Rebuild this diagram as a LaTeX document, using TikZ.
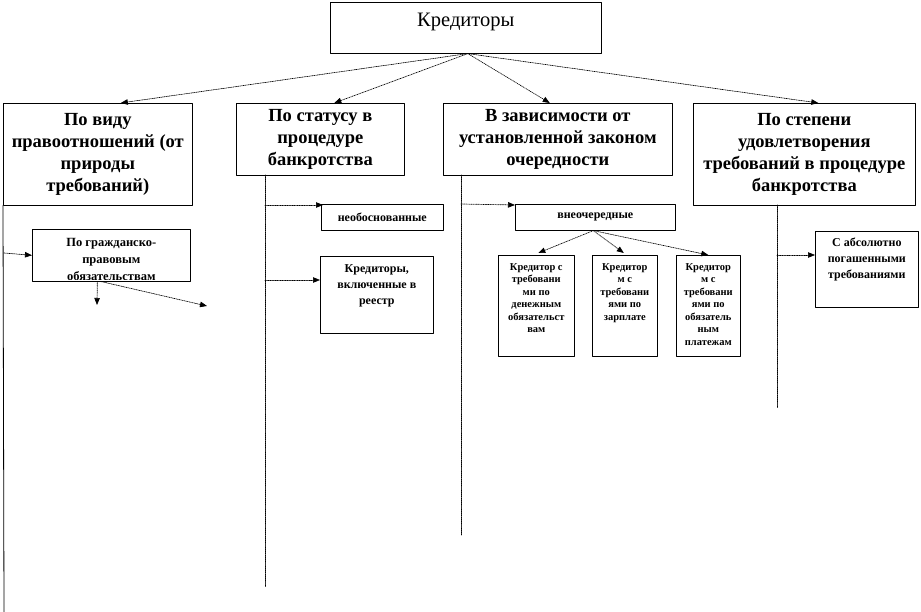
\documentclass[tikz,border=0pt]{standalone}
\usepackage{fontspec}
\setmainfont{Liberation Serif}
\usetikzlibrary{arrows.meta, calc, positioning}

\tikzset{
  box/.style={draw, line width=0.6pt, anchor=north west, inner sep=0pt},
  cattext/.style={align=center, font=\bfseries\fontsize{18.5}{22}\selectfont},
  note/.style={align=center, inner sep=0pt, font=\bfseries\fontsize{12}{16}\selectfont},
  narrow/.style={align=center, inner sep=0pt, font=\bfseries\fontsize{10.5}{12.5}\selectfont},
  link/.style={-{Triangle[length=7pt,width=5.5pt]}, densely dotted, line width=0.7pt},
  trunk/.style={densely dotted, line width=0.9pt},
}

\begin{document}
\begin{tikzpicture}[x=1pt, y=-1pt, line cap=round, line join=round]
		\useasboundingbox (0,0) rectangle (921,612);
		% root
		\node [box, minimum width=271pt, font=\fontsize{20.5}{22}\selectfont,
		       text height=24.5pt, text depth=26.5pt] (cred) at (330,2) {Кредиторы};
		
		% categories
		\node [box, cattext, minimum width=189pt, minimum height=102pt] (vid) at (3,103)
		    {По виду\\правоотношений (от\\природы\\требований)};
		\node [box, cattext, minimum width=168pt, minimum height=72pt] (stat) at (236,103)
		    {По статусу в\\процедуре\\банкротства};
		\node [box, cattext, minimum width=229pt, minimum height=72pt] (ochr) at (443,103)
		    {В зависимости от\\установленной законом\\очередности};
		\node [box, cattext, minimum width=222pt, minimum height=102pt] (step) at (693,103)
		    {По степени\\удовлетворения\\требований в процедуре\\банкротства};
		
		\coordinate (root) at ($(cred.south)+(2,0)$);
		\draw [link] (root) -- ($(vid.north)+(23,0)$);
		\draw [link] (root) -- ($(stat.north)+(14,0)$);
		\draw [link] (root) -- ($(ochr.north)+(-8,0)$);
		\draw [link] (root) -- ($(step.north)+(14,0)$);
		
		% trunks
		\coordinate (vidEnd) at (4,612);
		\coordinate (statTop) at (265,175);  \coordinate (statEnd) at (265,587);
		\coordinate (ochrTop) at (461,175);  \coordinate (ochrEnd) at (461,535);
		\coordinate (stepTop) at (777,205);  \coordinate (stepEnd) at (777,408);
		\draw [line width=0.8pt] (vid.south west) -- (vidEnd);
		\draw [trunk] (statTop) -- (statEnd);
		\draw [trunk] (ochrTop) -- (ochrEnd);
		\draw [trunk] (stepTop) -- (stepEnd);
		
		% first column
		\node [box, minimum width=158pt, minimum height=52pt] (grazh) at (32,229) {};
		\begin{scope}
		    \clip (32,229) rectangle (190,280);
		    \node [note, font=\bfseries\fontsize{12.5}{17}\selectfont, below=9pt of grazh.north] (grazhTxt)
		        {По гражданско-\\правовым\\обязательствам};
		\end{scope}
		\coordinate (vidOut) at (4,253);
		\coordinate (grazhA) at (97,305);
		\coordinate (grazhB) at (207,306);
		\draw [link] (vidOut) -- (grazh.west);
		\draw [link] ($(grazh.south)+(-14,0)$) -- (grazhA);
		\draw [link] ($(grazh.south)+(-10,0)$) -- (grazhB);
		
		% second column
		\node [box, note, minimum width=122pt, minimum height=26pt] (neob) at (321,204) {необоснованные};
		\node [box, minimum width=113pt, minimum height=77pt] (reestr) at (320,256) {};
		\node [note, below=8pt of reestr.north] (reestrTxt) {Кредиторы,\\включенные в\\реестр};
		\coordinate (statOutA) at (265,205);
		\coordinate (statOutB) at (265,280);
		\draw [link] (statOutA) -- ($(neob.north west)+(2,1)$);
		\draw [link] (statOutB) -- (reestr.west |- statOutB);
		
		% third column
		\node [box, note, minimum width=160pt, minimum height=26pt] (vne) at (515,204) {внеочередные};
		\coordinate (ochrOut) at (461,204);
		\draw [link] (ochrOut) -- ($(vne.north west)+(0,1)$);
		\node [box, minimum width=76pt, minimum height=101pt] (den) at (498,255) {};
		\node [box, minimum width=65pt, minimum height=101pt] (zarp) at (592,255) {};
		\node [box, minimum width=64pt, minimum height=101pt] (plat) at (676,255) {};
		\node [narrow, below=8pt of den.north] (denTxt)
		    {Кредитор с\\требовани\\ми по\\денежным\\обязательст\\вам};
		\node [narrow, below=8pt of zarp.north] (zarpTxt)
		    {Кредитор\\м с\\требовани\\ями по\\зарплате};
		\node [narrow, below=8pt of plat.north] (platTxt)
		    {Кредитор\\м с\\требовани\\ями по\\обязатель\\ным\\платежам};
		\draw [link] ($(vne.south)+(-2,0)$) -- ($(den.north)+(2,-2)$);
		\draw [link] ($(vne.south)+(-2,0)$) -- ($(zarp.north)+(-1,-2)$);
		\draw [link] ($(vne.south)+(-2,0)$) -- (plat.north);
		
		% fourth column
		\node [box, minimum width=103pt, minimum height=76pt] (absol) at (815,231) {};
		\node [note, below=7pt of absol.north] (absolTxt) {С абсолютно\\погашенными\\требованиями};
		\coordinate (stepOut) at (777,255);
		\draw [link] (stepOut) -- (absol.west |- stepOut);
\end{tikzpicture}
\end{document}
